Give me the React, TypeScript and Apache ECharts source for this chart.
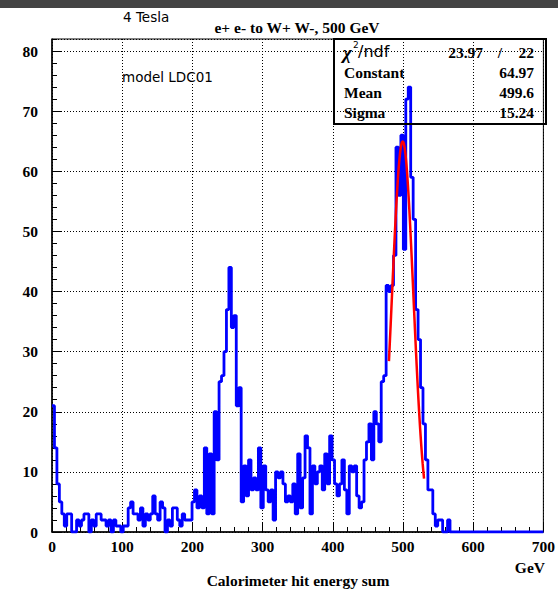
import React, { useEffect, useRef } from "react";
import * as echarts from "echarts";

// ---- data ----
const binWidth = 3.5; // GeV per bin
const xMin = 0;
const xMax = 700;
const yMax = 82;
const counts: number[] = [
  21, 14, 8, 5, 3, 1, 3, 3, 0, 0,
  2, 1, 2, 3, 3, 0, 2, 1, 3, 3,
  2, 2, 1, 2, 0, 2, 1, 1, 0, 1,
  1, 4, 5, 3, 3, 2, 4, 1, 3, 2,
  3, 6, 3, 2, 5, 4, 0, 2, 1, 4,
  4, 2, 1, 3, 2, 2, 2, 5, 7, 4,
  6, 4, 14, 3, 13, 3, 20, 12, 25, 26,
  30, 37, 44, 34, 36, 21, 24, 5, 11, 6,
  12, 7, 9, 7, 14, 4, 11, 7, 5, 7,
  2, 10, 9, 10, 8, 5, 6, 5, 8, 3,
  13, 4, 9, 16, 14, 3, 11, 8, 10, 11,
  7, 13, 8, 16, 12, 8, 6, 8, 12, 7,
  3, 11, 10, 11, 6, 4, 5, 12, 15, 18,
  12, 20, 18, 15, 25, 26, 41, 40, 41, 46,
  64, 56, 66, 47, 72, 74, 59, 52, 37, 32,
  24, 18, 12, 7, 7, 3, 1, 2, 2, 0,
  0, 2, 0, 0, 0, 0, 0, 0, 0, 0,
  0, 0, 0, 0, 0, 0, 0, 0, 0, 0,
  0, 0, 0, 0, 0, 0, 0, 0, 0, 0,
  0, 0, 0, 0, 0, 0, 0, 0, 0, 0,
];
const xInterval = 100;
const yInterval = 10;
const yMinorInterval = 2;

// Gaussian fit parameters (from the stats box)
const fitConstant = 64.97;
const fitMean = 499.6;
const fitSigma = 15.24;
const fitLow = 480;
const fitHigh = 530;
const chi2Text = "23.97";
const ndfText = "22";
const statNames = ["Constant", "Mean", "Sigma"];
const statValues = ["64.97", "499.6", "15.24"];

const plotTitle = "e+ e- to W+ W-, 500 GeV";
const xTitle = "Calorimeter hit energy sum";
const xUnit = "GeV";
const fieldLabel = "4 Tesla";
const modelLabel = "model LDC01";

const SERIF = '"Liberation Serif", "Times New Roman", serif';
const SANS = '"DejaVu Sans", sans-serif';

function textBase() {
  return { fontFamily: SERIF, fontWeight: "bold", fontSize: 15.5, fill: "#000" };
}

export default function App() {
  const ref = useRef<HTMLDivElement>(null);
  useEffect(() => {
    if (!ref.current) return;
    const chart = echarts.init(ref.current, undefined, { renderer: "svg" });

    const histData: number[][] = counts.map((c, i) => [xMin + i * binWidth, c]);
    histData.push([xMin + counts.length * binWidth, counts[counts.length - 1]]);

    const fitData: number[][] = [];
    for (let x = fitLow; x <= fitHigh + 1e-9; x += 0.5) {
      fitData.push([x, fitConstant * Math.exp(-0.5 * Math.pow((x - fitMean) / fitSigma, 2))]);
    }

    const labelStyle = {
      color: "#000",
      fontFamily: SERIF,
      fontWeight: "bold" as const,
      fontSize: 15.5,
    };
    const dotted = { color: "#000", width: 1, type: [1, 2] as number[] };

    const statRows = statNames
      .map((n, i) => [
        {
          type: "text",
          x: 344,
          y: 72 + i * 20,
          z: 60,
          style: { text: n, ...textBase(), align: "left", verticalAlign: "middle" },
        },
        {
          type: "text",
          x: 534,
          y: 72 + i * 20,
          z: 60,
          style: { text: statValues[i], ...textBase(), align: "right", verticalAlign: "middle" },
        },
      ])
      .flat();

    chart.setOption({
      animation: false,
      backgroundColor: "#fff",
      grid: {
        left: 52,
        top: 39,
        right: 12,
        bottom: 58,
        show: true,
        borderColor: "#000",
        borderWidth: 1,
        backgroundColor: "transparent",
      },
      xAxis: {
        type: "value",
        min: xMin,
        max: xMax,
        interval: xInterval,
        axisLine: { show: true, onZero: false, lineStyle: { color: "#000", width: 1.5 } },
        axisTick: { show: true, inside: true, length: 9, lineStyle: { color: "#000", width: 1 } },
        minorTick: { show: true, splitNumber: 5, length: 5, lineStyle: { color: "#000", width: 1 } },
        axisLabel: { ...labelStyle, margin: 6 },
        splitLine: { show: true, lineStyle: dotted },
      },
      yAxis: [
        {
          type: "value",
          min: 0,
          max: yMax,
          interval: yInterval,
          position: "left",
          axisLine: { show: true, onZero: false, lineStyle: { color: "#000", width: 1.5 } },
          axisTick: { show: true, inside: true, length: 9, lineStyle: { color: "#000", width: 1 } },
          axisLabel: {
            ...labelStyle,
            margin: 14,
            showMaxLabel: false,
            formatter: (v: number) => (v % yInterval === 0 ? String(v) : ""),
          },
          splitLine: { show: true, lineStyle: dotted },
        },
        {
          type: "value",
          min: 0,
          max: yMax,
          interval: yMinorInterval,
          position: "left",
          offset: 0,
          axisLine: { show: false },
          axisTick: { show: true, inside: true, length: 5, lineStyle: { color: "#000", width: 1 } },
          axisLabel: { show: false },
          splitLine: { show: false },
        },
      ],
      series: [
        {
          type: "line",
          data: histData,
          step: "end",
          symbol: "none",
          yAxisIndex: 0,
          lineStyle: { color: "#0000ff", width: 2.8 },
          z: 10,
        },
        {
          type: "line",
          data: fitData,
          symbol: "none",
          yAxisIndex: 0,
          lineStyle: { color: "#ff0000", width: 2.5 },
          z: 11,
        },
      ],
      graphic: [
        { type: "rect", shape: { x: 0, y: 0, width: 558, height: 8 }, style: { fill: "#444" }, z: 100 },
        {
          type: "text",
          x: 123,
          y: 17,
          style: { text: fieldLabel, fontFamily: SANS, fontSize: 13.5, fill: "#000", verticalAlign: "middle" },
        },
        {
          type: "text",
          x: 297,
          y: 27,
          style: { text: plotTitle, ...textBase(), align: "center", verticalAlign: "middle" },
        },
        {
          type: "text",
          x: 122,
          y: 77,
          style: { text: modelLabel, fontFamily: SANS, fontSize: 13.5, fill: "#000", verticalAlign: "middle" },
        },
        {
          type: "rect",
          shape: { x: 334, y: 39, width: 212, height: 85 },
          style: { fill: "none", stroke: "#000", lineWidth: 2 },
          z: 50,
        },
        {
          type: "text",
          x: 343,
          y: 52,
          z: 60,
          style: { text: "χ", fontFamily: SERIF, fontStyle: "italic", fontWeight: "bold", fontSize: 19, fill: "#000", verticalAlign: "middle" },
        },
        {
          type: "text",
          x: 353,
          y: 45,
          z: 60,
          style: { text: "2", fontFamily: SANS, fontSize: 9, fill: "#000", verticalAlign: "middle" },
        },
        {
          type: "text",
          x: 358,
          y: 51,
          z: 60,
          style: { text: "/ndf", fontFamily: SANS, fontSize: 16, fill: "#000", verticalAlign: "middle" },
        },
        {
          type: "text",
          x: 483,
          y: 52,
          z: 60,
          style: { text: chi2Text, ...textBase(), align: "right", verticalAlign: "middle" },
        },
        {
          type: "text",
          x: 500,
          y: 52,
          z: 60,
          style: { text: "/", ...textBase(), align: "center", verticalAlign: "middle" },
        },
        {
          type: "text",
          x: 534,
          y: 52,
          z: 60,
          style: { text: ndfText, ...textBase(), align: "right", verticalAlign: "middle" },
        },
        ...statRows,
        {
          type: "text",
          x: 545,
          y: 567,
          style: { text: xUnit, ...textBase(), align: "right", verticalAlign: "middle" },
        },
        {
          type: "text",
          x: 298,
          y: 580,
          style: { text: xTitle, ...textBase(), align: "center", verticalAlign: "middle" },
        },
      ],
    });
    return () => chart.dispose();
  }, []);
  return (
    <div
      ref={ref}
      style={{ position: "fixed", left: 0, top: 0, width: 558, height: 590, background: "#fff" }}
    />
  );
}
